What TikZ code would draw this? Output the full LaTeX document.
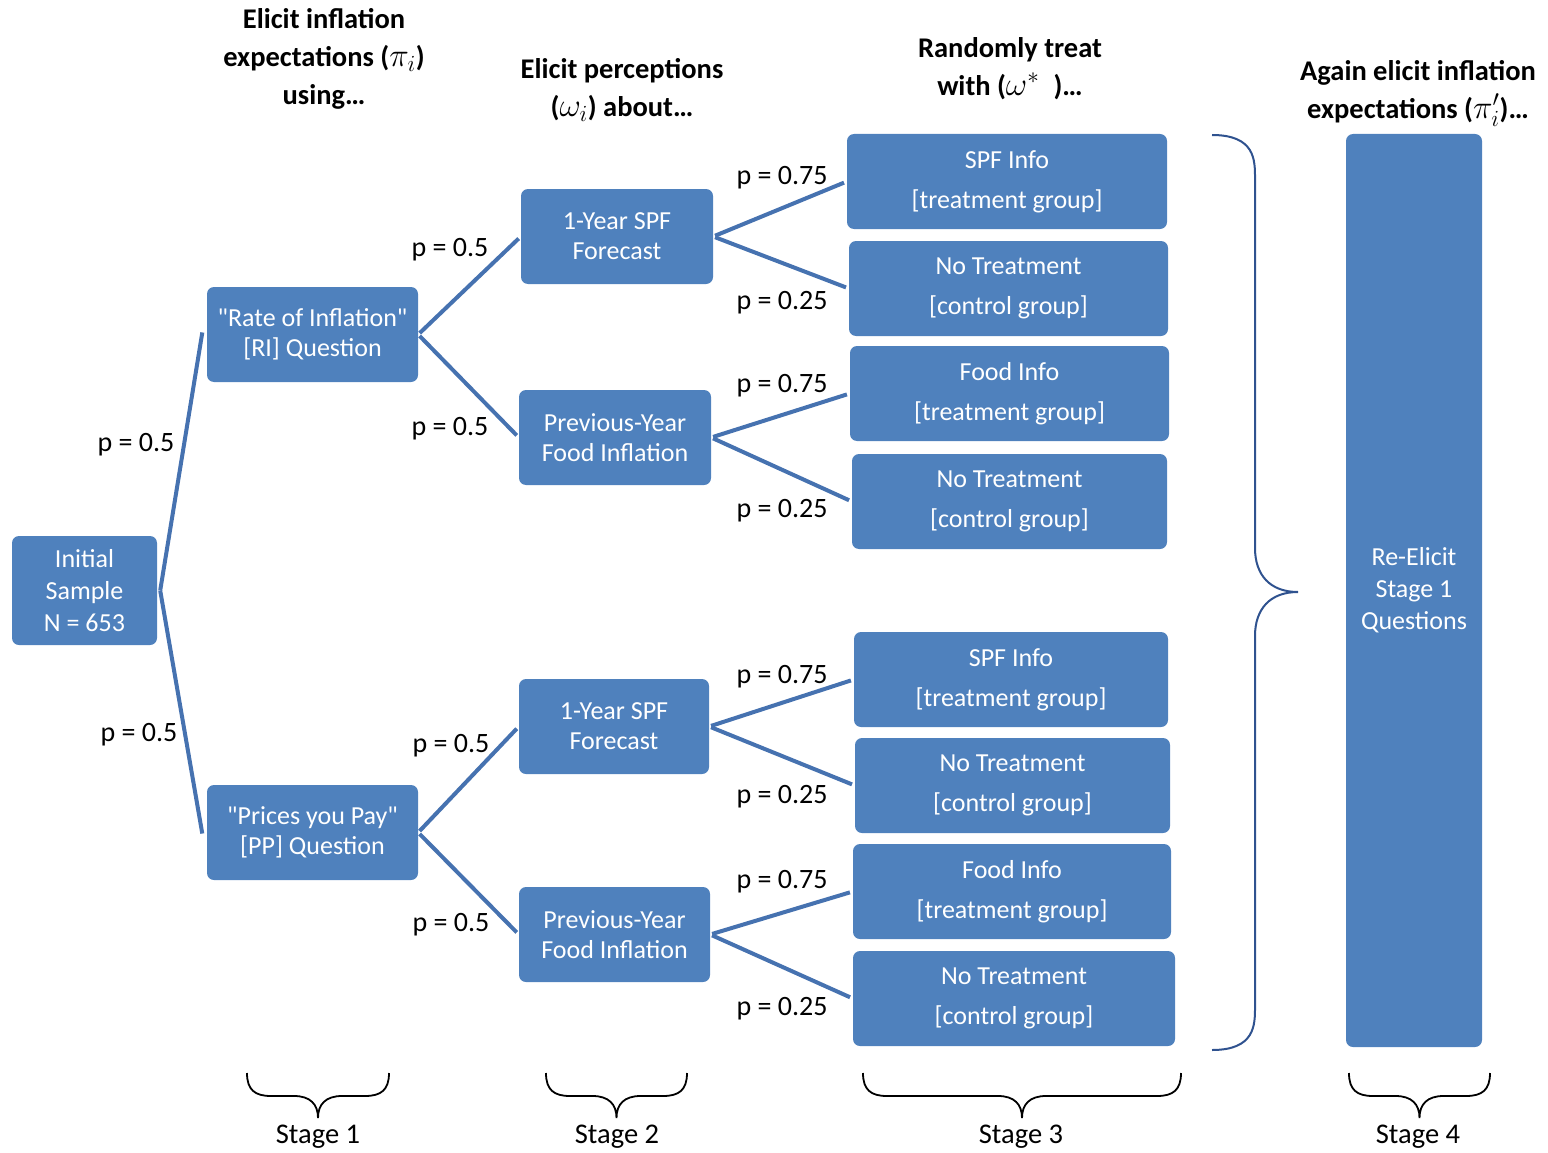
\RequirePackage{fix-cm}
\documentclass[tikz,border=0pt]{standalone}
\usepackage{fontspec}
\setmainfont{Carlito}
\definecolor{boxblue}{RGB}{79,129,189}
\definecolor{linkblue}{RGB}{70,114,176}
\definecolor{bracedark}{RGB}{47,82,143}
\font\plainCarlito="Carlito" at 26pt
\newcommand{\dq}{{\plainCarlito\char"22}}
\newcommand{\headmath}[1]{{\fontsize{33}{36}\selectfont\smash{$#1$}}}
\begin{document}
\begin{tikzpicture}[x=1pt,y=-1pt,
  box/.style={fill=boxblue, rounded corners=7pt, text=white, align=center, inner sep=0pt,
    font=\fontsize{26}{30}\selectfont},
  tbox/.style={box, font=\fontsize{26}{40}\selectfont},
  link/.style={draw=linkblue, line width=4pt, shorten <=2pt, shorten >=3pt},
  plab/.style={font=\fontsize{28}{34}\selectfont, inner sep=0pt},
  head/.style={font=\bfseries\fontsize{28.5}{38}\selectfont, align=center, inner sep=0pt},
  stagelab/.style={font=\fontsize{28.5}{34}\selectfont, inner sep=0pt},
  brc/.style={draw=black, line width=1.8pt},
]
\useasboundingbox (0,0) rectangle (1548,1153);

% Stage 0 / 1
\node[box, minimum width=145pt, minimum height=109pt] (init) at (84.5,590.5) {Initial\\[2pt]Sample\\[2pt]N = 653};
\node[box, minimum width=211pt, minimum height=95pt] (ri) at (312.5,334.5) {\dq Rate of Inflation\dq\\{}[RI] Question};
\node[box, minimum width=211pt, minimum height=95pt] (pp) at (312.5,832.5) {\dq Prices you Pay\dq\\{}[PP] Question};

% Stage 2
\node[box, minimum width=192pt, minimum height=95pt] (spfa) at (617,236.5) {1-Year SPF\\Forecast};
\node[box, minimum width=192pt, minimum height=95pt] (fooda) at (615,437.5) {Previous-Year\\Food Inflation};
\node[box, minimum width=190pt, minimum height=95pt] (spfb) at (614,726.5) {1-Year SPF\\Forecast};
\node[box, minimum width=191pt, minimum height=95pt] (foodb) at (614.5,934.5) {Previous-Year\\Food Inflation};

% Stage 3
\node[tbox, minimum width=320pt, minimum height=95pt] (t1) at (1007,181.5) {SPF Info\\{}[treatment group]};
\node[tbox, minimum width=319pt, minimum height=95pt] (c1) at (1008.5,288.5) {No Treatment\\{}[control group]};
\node[tbox, minimum width=319pt, minimum height=95pt] (t2) at (1009.5,393.5) {Food Info\\{}[treatment group]};
\node[tbox, minimum width=315pt, minimum height=95pt] (c2) at (1009.5,501.5) {No Treatment\\{}[control group]};
\node[tbox, minimum width=314pt, minimum height=95pt] (t3) at (1011,679.5) {SPF Info\\{}[treatment group]};
\node[tbox, minimum width=315pt, minimum height=95pt] (c3) at (1012.5,785.5) {No Treatment\\{}[control group]};
\node[tbox, minimum width=318pt, minimum height=95pt] (t4) at (1012,891.5) {Food Info\\{}[treatment group]};
\node[tbox, minimum width=322pt, minimum height=95pt] (c4) at (1014,998.5) {No Treatment\\{}[control group]};

% Stage 4
\node[box, minimum width=136pt, minimum height=913pt] (re) at (1414,590.5) {Re-Elicit\\[2pt]Stage 1\\[2pt]Questions};

% Connectors
\coordinate (initR) at ([xshift=3pt]init.east);
\draw[link, shorten <=0pt] (initR) -- ([xshift=-4pt,yshift=5pt]ri.west);
\draw[link, shorten <=0pt] (initR) -- ([xshift=-4pt,yshift=-4pt]pp.west);
\draw[link] (ri.east) -- (spfa.west);
\draw[link] (ri.east) -- (fooda.west);
\draw[link] (pp.east) -- (spfb.west);
\draw[link] (pp.east) -- (foodb.west);
\draw[link] (spfa.east) -- (t1.west);
\draw[link] (spfa.east) -- (c1.west);
\draw[link] (fooda.east) -- (t2.west);
\draw[link] (fooda.east) -- (c2.west);
\draw[link] (spfb.east) -- (t3.west);
\draw[link] (spfb.east) -- (c3.west);
\draw[link] (foodb.east) -- (t4.west);
\draw[link] (foodb.east) -- (c4.west);

% Probability labels
\node[plab] (p1) at (136,445) {p = 0.5};
\node[plab] (p2) at (139,735) {p = 0.5};
\node[plab] (p3) at (450,250) {p = 0.5};
\node[plab] (p4) at (450,429) {p = 0.5};
\node[plab] (p5) at (451,746) {p = 0.5};
\node[plab] (p6) at (451,925) {p = 0.5};
\node[plab] (p7) at (782,178) {p = 0.75};
\node[plab] (p8) at (782,303) {p = 0.25};
\node[plab] (p9) at (782,386) {p = 0.75};
\node[plab] (p10) at (782,511) {p = 0.25};
\node[plab] (p11) at (782,677) {p = 0.75};
\node[plab] (p12) at (782,797) {p = 0.25};
\node[plab] (p13) at (782,882) {p = 0.75};
\node[plab] (p14) at (782,1009) {p = 0.25};

% Headers
\node[head] (h1) at (324,59) {Elicit inflation\\expectations (\headmath{\pi_i})\\using…};
\node[head] (h2) at (622,90) {Elicit perceptions\\(\headmath{\omega_i}) about…};
\node[head] (h3) at (1010,69) {Randomly treat\\with (\headmath{\omega^{*}}\,\,\,)…};
\begin{scope}
\clip (1280,40) rectangle (1548,127);
\node[head] (h4) at (1418,92) {Again elicit inflation\\expectations (\headmath{\pi_i'})…};
\end{scope}

% Big right brace
\draw[draw=bracedark, line width=2pt]
  (1212,135) .. controls (1255,135) and (1255,160) .. (1255,178)
  -- (1255,548) .. controls (1255,575) and (1270,592) .. (1298,592)
  .. controls (1270,592) and (1255,609) .. (1255,636)
  -- (1255,1007) .. controls (1255,1025) and (1255,1050) .. (1212,1050);

% Bottom braces
\foreach \xa/\xb/\nm in {247/389/b1, 546/687/b2, 863/1181/b3, 1349/1490/b4}{
  \pgfmathsetmacro{\xm}{(\xa+\xb)/2}
  \draw[brc] (\xa,1073) .. controls (\xa,1090) and (\xa+8,1096) .. (\xa+24,1096)
    -- (\xm-24,1096) .. controls (\xm-8,1096) and (\xm,1104) .. (\xm,1118)
    .. controls (\xm,1104) and (\xm+8,1096) .. (\xm+24,1096)
    -- (\xb-24,1096) .. controls (\xb-8,1096) and (\xb,1090) .. (\xb,1073);
}
\node[stagelab] (s1) at (318,1137) {Stage 1};
\node[stagelab] (s2) at (617,1137) {Stage 2};
\node[stagelab] (s3) at (1021,1137) {Stage 3};
\node[stagelab] (s4) at (1418,1137) {Stage 4};
\end{tikzpicture}
\end{document}
